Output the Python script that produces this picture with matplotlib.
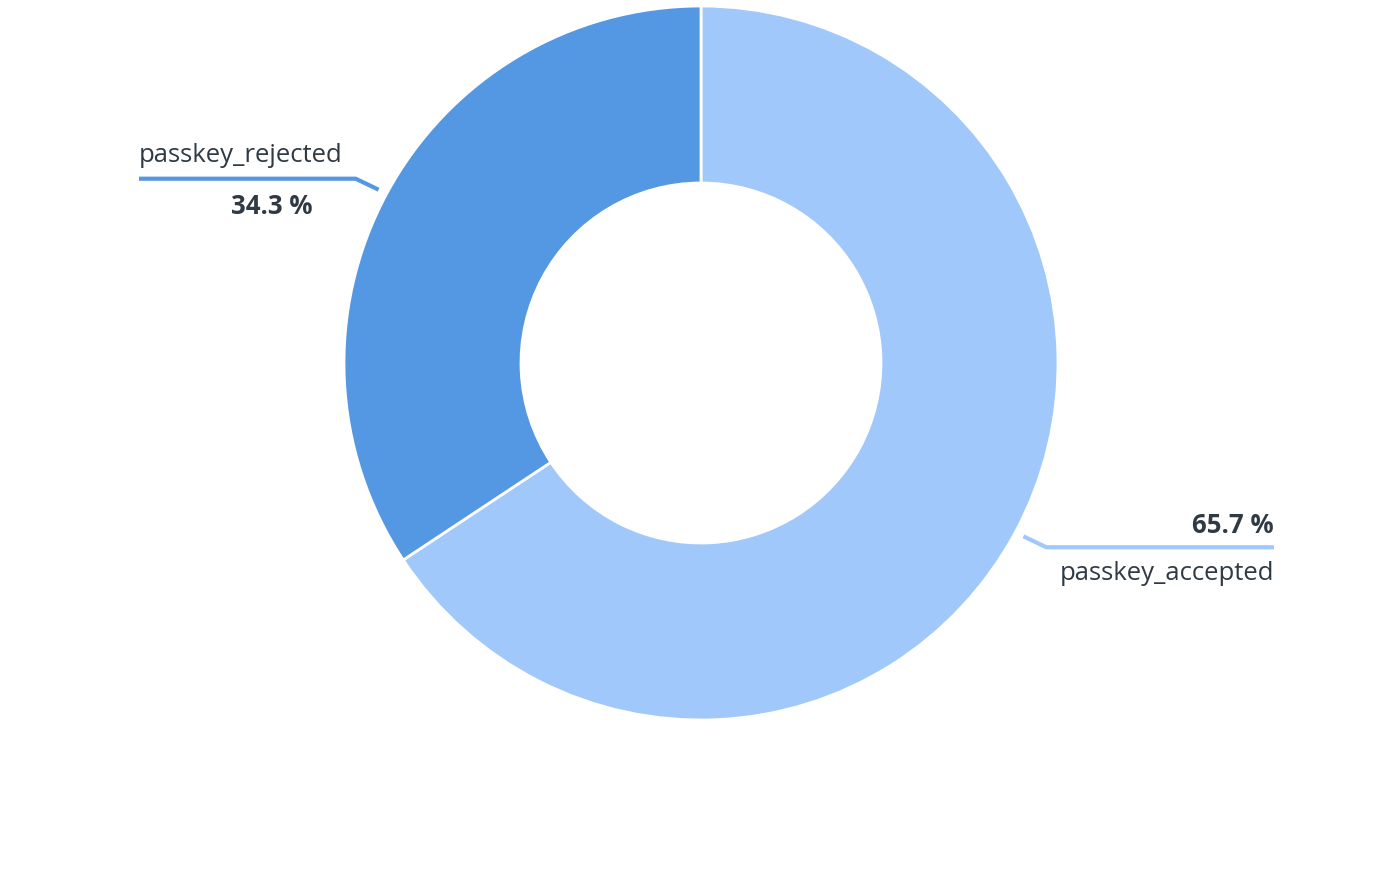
import matplotlib
matplotlib.use("Agg")
import matplotlib.pyplot as plt
import numpy as np

labels = ["passkey_accepted", "passkey_rejected"]
values = [65.7, 34.3]
colors = ["#A1C8FA", "#5497E3"]

W, H = 1378, 886
fig = plt.figure(figsize=(W / 100, H / 100), dpi=100)
ax = fig.add_axes([0, 0, 1, 1])

cx, cy = 701, H - 363
R = 357
inner = 180

wedges, _ = ax.pie(values, colors=colors, startangle=90, counterclock=False,
                   radius=R, center=(cx, cy), frame=True,
                   wedgeprops=dict(width=R - inner, edgecolor="white", linewidth=2))
ax.set_xlim(0, W)
ax.set_ylim(0, H)
ax.set_aspect("equal")
ax.axis("off")

txt = "#2F3A45"
font = "Open Sans"
fs = 18.5
for w, lab, val, col in zip(wedges, labels, values, colors):
    ang = np.deg2rad((w.theta1 + w.theta2) / 2)
    x0 = cx + (R + 9) * np.cos(ang)
    y0 = cy + (R + 9) * np.sin(ang)
    side = 1 if np.cos(ang) > 0 else -1
    x1 = x0 + side * 23
    y1 = y0 - 11 if side > 0 else y0 + 11
    xend = 1274 if side > 0 else 139
    ax.plot([x0, x1, xend], [y0, y1, y1], color=col, lw=3, solid_capstyle="butt")
    if side > 0:
        ax.text(xend, y1 + 14, f"{val} %", ha="right", va="baseline", fontsize=fs,
                fontweight="bold", color=txt, family=font)
        ax.text(xend, y1 - 33, lab, ha="right", va="baseline", fontsize=fs,
                color=txt, family=font)
    else:
        ax.text(xend, y1 + 17, lab, ha="left", va="baseline", fontsize=fs,
                color=txt, family=font)
        ax.text(x1 - 43, y1 - 35, f"{val} %", ha="right", va="baseline", fontsize=fs,
                fontweight="bold", color=txt, family=font)

fig.savefig("out.png", dpi=100, facecolor="white")
